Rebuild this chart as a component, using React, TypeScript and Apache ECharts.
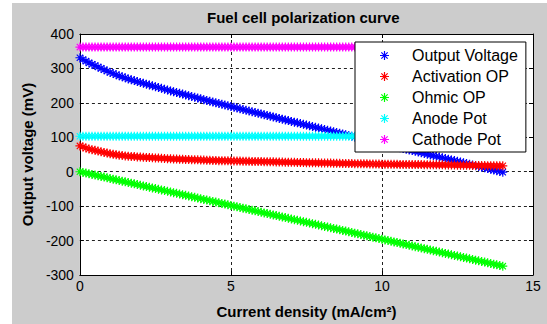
import { useEffect, useRef } from "react";
import * as echarts from "echarts";

const seriesNames = ["Output Voltage", "Activation OP", "Ohmic OP", "Anode Pot", "Cathode Pot"];
const seriesColors = ["#0000ff", "#ff0000", "#00ff00", "#00ffff", "#ff00ff"];
const xTicks = [0, 5, 10, 15];
const yTicks = [-300, -200, -100, 0, 100, 200, 300, 400];

const currentDensity = [
  0, 0.1, 0.2, 0.3, 0.4, 0.5, 0.6, 0.7, 0.8, 0.9,
  1, 1.1, 1.2, 1.3, 1.4, 1.5, 1.6, 1.7, 1.8, 1.9,
  2, 2.1, 2.2, 2.3, 2.4, 2.5, 2.6, 2.7, 2.8, 2.9,
  3, 3.1, 3.2, 3.3, 3.4, 3.5, 3.6, 3.7, 3.8, 3.9,
  4, 4.1, 4.2, 4.3, 4.4, 4.5, 4.6, 4.7, 4.8, 4.9,
  5, 5.1, 5.2, 5.3, 5.4, 5.5, 5.6, 5.7, 5.8, 5.9,
  6, 6.1, 6.2, 6.3, 6.4, 6.5, 6.6, 6.7, 6.8, 6.9,
  7, 7.1, 7.2, 7.3, 7.4, 7.5, 7.6, 7.7, 7.8, 7.9,
  8, 8.1, 8.2, 8.3, 8.4, 8.5, 8.6, 8.7, 8.8, 8.9,
  9, 9.1, 9.2, 9.3, 9.4, 9.5, 9.6, 9.7, 9.8, 9.9,
  10, 10.1, 10.2, 10.3, 10.4, 10.5, 10.6, 10.7, 10.8, 10.9,
  11, 11.1, 11.2, 11.3, 11.4, 11.5, 11.6, 11.7, 11.8, 11.9,
  12, 12.1, 12.2, 12.3, 12.4, 12.5, 12.6, 12.7, 12.8, 12.9,
  13, 13.1, 13.2, 13.3, 13.4, 13.5, 13.6, 13.7, 13.8, 13.9,
  14,
];

const outputVoltage = [
  331, 326, 321.1, 316.1, 312.2, 308.2, 304.2, 300.3, 296.3, 292.4,
  288.4, 285.4, 281.5, 278.5, 275.6, 272.6, 269.6, 267.2, 264.7, 261.8,
  259.3, 256.8, 254.4, 251.9, 249.5, 247, 244.5, 242.1, 239.6, 237.2,
  234.7, 232.2, 230, 227.7, 225.4, 223.1, 220.8, 218.5, 216.2, 214,
  211.6, 209.3, 207.1, 204.8, 202.6, 200.3, 198, 195.9, 193.7, 191.6,
  189.4, 187.2, 185.1, 182.9, 180.8, 178.6, 176.4, 174.3, 172.1, 170,
  167.8, 165.6, 163.5, 161.3, 159.2, 157, 154.8, 152.7, 150.5, 148.4,
  146.2, 144, 141.9, 139.7, 137.6, 135.4, 133.2, 131.1, 128.9, 126.9,
  124.8, 122.6, 120.5, 118.3, 116.2, 114, 111.8, 109.7, 107.5, 105.4,
  103.2, 101, 98.9, 96.7, 94.7, 92.6, 90.4, 88.3, 86.1, 84.1,
  82, 79.9, 77.9, 75.7, 73.7, 71.6, 69.5, 67.5, 65.4, 63.4,
  61.3, 59.2, 57.2, 55.1, 53.1, 51, 48.9, 46.9, 44.8, 42.8,
  40.7, 38.5, 36.5, 34.3, 32.3, 30.1, 28, 25.9, 23.8, 21.7,
  19.6, 17.4, 15.4, 13.2, 11.2, 9, 6.9, 4.8, 2.7, 0.7,
  -1.4,
];

const activationOP = [
  75, 72, 69, 66, 64, 62, 60, 58, 56, 54,
  52, 51, 49, 48, 47, 46, 45, 44.5, 44, 43,
  42.5, 42, 41.5, 41, 40.5, 40, 39.5, 39, 38.5, 38,
  37.5, 37, 36.7, 36.4, 36, 35.7, 35.4, 35, 34.7, 34.4,
  34, 33.7, 33.4, 33.1, 32.8, 32.5, 32.2, 32, 31.8, 31.6,
  31.4, 31.2, 31, 30.8, 30.6, 30.4, 30.2, 30, 29.8, 29.6,
  29.4, 29.2, 29, 28.8, 28.6, 28.4, 28.2, 28, 27.8, 27.6,
  27.4, 27.2, 27, 26.8, 26.6, 26.4, 26.2, 26, 25.8, 25.7,
  25.6, 25.4, 25.2, 25, 24.8, 24.6, 24.4, 24.2, 24, 23.8,
  23.6, 23.4, 23.2, 23, 22.9, 22.8, 22.6, 22.4, 22.2, 22.1,
  22, 21.9, 21.8, 21.6, 21.5, 21.4, 21.3, 21.2, 21.1, 21,
  20.9, 20.8, 20.7, 20.6, 20.5, 20.4, 20.3, 20.2, 20.1, 20,
  19.9, 19.7, 19.6, 19.4, 19.3, 19.1, 19, 18.8, 18.7, 18.5,
  18.4, 18.2, 18.1, 17.9, 17.8, 17.6, 17.5, 17.3, 17.2, 17.1,
  17,
];

const ohmicOP = [
  0, -2, -3.9, -5.9, -7.8, -9.8, -11.8, -13.7, -15.7, -17.6,
  -19.6, -21.6, -23.5, -25.5, -27.4, -29.4, -31.4, -33.3, -35.3, -37.2,
  -39.2, -41.2, -43.1, -45.1, -47, -49, -51, -52.9, -54.9, -56.8,
  -58.8, -60.8, -62.7, -64.7, -66.6, -68.6, -70.6, -72.5, -74.5, -76.4,
  -78.4, -80.4, -82.3, -84.3, -86.2, -88.2, -90.2, -92.1, -94.1, -96,
  -98, -100, -101.9, -103.9, -105.8, -107.8, -109.8, -111.7, -113.7, -115.6,
  -117.6, -119.6, -121.5, -123.5, -125.4, -127.4, -129.4, -131.3, -133.3, -135.2,
  -137.2, -139.2, -141.1, -143.1, -145, -147, -149, -150.9, -152.9, -154.8,
  -156.8, -158.8, -160.7, -162.7, -164.6, -166.6, -168.6, -170.5, -172.5, -174.4,
  -176.4, -178.4, -180.3, -182.3, -184.2, -186.2, -188.2, -190.1, -192.1, -194,
  -196, -198, -199.9, -201.9, -203.8, -205.8, -207.8, -209.7, -211.7, -213.6,
  -215.6, -217.6, -219.5, -221.5, -223.4, -225.4, -227.4, -229.3, -231.3, -233.2,
  -235.2, -237.2, -239.1, -241.1, -243, -245, -247, -248.9, -250.9, -252.8,
  -254.8, -256.8, -258.7, -260.7, -262.6, -264.6, -266.6, -268.5, -270.5, -272.4,
  -274.4,
];

const anodePot = [
  103, 103, 103, 103, 103, 103, 103, 103, 103, 103,
  103, 103, 103, 103, 103, 103, 103, 103, 103, 103,
  103, 103, 103, 103, 103, 103, 103, 103, 103, 103,
  103, 103, 103, 103, 103, 103, 103, 103, 103, 103,
  103, 103, 103, 103, 103, 103, 103, 103, 103, 103,
  103, 103, 103, 103, 103, 103, 103, 103, 103, 103,
  103, 103, 103, 103, 103, 103, 103, 103, 103, 103,
  103, 103, 103, 103, 103, 103, 103, 103, 103, 103,
  103, 103, 103, 103, 103, 103, 103, 103, 103, 103,
  103, 103, 103, 103, 103, 103, 103, 103, 103, 103,
  103, 103, 103, 103, 103, 103, 103, 103, 103, 103,
  103, 103, 103, 103, 103, 103, 103, 103, 103, 103,
  103, 103, 103, 103, 103, 103, 103, 103, 103, 103,
  103, 103, 103, 103, 103, 103, 103, 103, 103, 103,
  103,
];

const cathodePot = [
  362, 362, 362, 362, 362, 362, 362, 362, 362, 362,
  362, 362, 362, 362, 362, 362, 362, 362, 362, 362,
  362, 362, 362, 362, 362, 362, 362, 362, 362, 362,
  362, 362, 362, 362, 362, 362, 362, 362, 362, 362,
  362, 362, 362, 362, 362, 362, 362, 362, 362, 362,
  362, 362, 362, 362, 362, 362, 362, 362, 362, 362,
  362, 362, 362, 362, 362, 362, 362, 362, 362, 362,
  362, 362, 362, 362, 362, 362, 362, 362, 362, 362,
  362, 362, 362, 362, 362, 362, 362, 362, 362, 362,
  362, 362, 362, 362, 362, 362, 362, 362, 362, 362,
  362, 362, 362, 362, 362, 362, 362, 362, 362, 362,
  362, 362, 362, 362, 362, 362, 362, 362, 362, 362,
  362, 362, 362, 362, 362, 362, 362, 362, 362, 362,
  362, 362, 362, 362, 362, 362, 362, 362, 362, 362,
  362,
];

const seriesValues = [outputVoltage, activationOP, ohmicOP, anodePot, cathodePot];

const STAR =
  "path://M4.35 0H5.65V10H4.35Z M0 4.35H10V5.65H0Z M1.95 1.03L8.97 8.05L8.05 8.97L1.03 1.95Z M8.05 1.03L8.97 1.95L1.95 8.97L1.03 8.05Z";

const FONT = "'Liberation Sans', Arial, Helvetica, sans-serif";

export default function App() {
  const ref = useRef<HTMLDivElement>(null);

  useEffect(() => {
    if (!ref.current) return;
    const chart = echarts.init(ref.current, undefined, { renderer: "svg" });

    const axisLine = { show: true, onZero: false, lineStyle: { color: "#000", width: 1 } };
    const tick = { show: true, inside: true, length: 4, lineStyle: { color: "#000" } };
    const grid = { show: true, lineStyle: { color: "#222", width: 1, type: [3, 3] as any } };

    chart.setOption({
      animation: false,
      backgroundColor: "#cccccc",
      textStyle: { fontFamily: FONT },
      title: {
        text: "Fuel cell polarization curve",
        left: 195,
        top: 7,
        padding: 0,
        textStyle: { fontFamily: FONT, fontSize: 15, fontWeight: "bold", color: "#000" },
      },
      grid: {
        left: 67,
        top: 31,
        right: 14,
        bottom: 48,
        show: true,
        backgroundColor: "#ffffff",
        borderWidth: 0,
        containLabel: false,
      },
      legend: {
        orient: "vertical",
        left: 343,
        top: 39,
        padding: [3, 8, 2, 25],
        itemGap: 0,
        itemWidth: 9,
        itemHeight: 9,
        icon: STAR,
        backgroundColor: "#ffffff",
        borderColor: "#000",
        borderWidth: 1,
        borderRadius: 0,
        selectedMode: false,
        data: seriesNames,
        textStyle: {
          fontFamily: FONT,
          fontSize: 16,
          color: "#000",
          lineHeight: 21,
          padding: [0, 0, 0, 18],
        },
      },
      xAxis: [
        {
          type: "value",
          position: "bottom",
          min: xTicks[0],
          max: xTicks[xTicks.length - 1],
          interval: xTicks[1] - xTicks[0],
          axisLine,
          axisTick: tick,
          splitLine: grid,
          axisLabel: { fontFamily: FONT, fontSize: 14, color: "#000", margin: 4 },
          name: "Current density (mA/cm²)",
          nameLocation: "middle",
          nameGap: 29,
          nameTextStyle: { fontFamily: FONT, fontSize: 15, fontWeight: "bold", color: "#000" },
        },
        {
          type: "value",
          position: "top",
          min: xTicks[0],
          max: xTicks[xTicks.length - 1],
          interval: xTicks[1] - xTicks[0],
          axisLine,
          axisTick: tick,
          splitLine: { show: false },
          axisLabel: { show: false },
        },
      ],
      yAxis: [
        {
          type: "value",
          position: "left",
          min: yTicks[0],
          max: yTicks[yTicks.length - 1],
          interval: yTicks[1] - yTicks[0],
          axisLine,
          axisTick: tick,
          splitLine: grid,
          axisLabel: { fontFamily: FONT, fontSize: 14, color: "#000", margin: 6 },
          name: "Output voltage (mV)",
          nameLocation: "middle",
          nameGap: 41,
          nameTextStyle: { fontFamily: FONT, fontSize: 15, fontWeight: "bold", color: "#000" },
        },
        {
          type: "value",
          position: "right",
          min: yTicks[0],
          max: yTicks[yTicks.length - 1],
          interval: yTicks[1] - yTicks[0],
          axisLine,
          axisTick: tick,
          splitLine: { show: false },
          axisLabel: { show: false },
        },
      ],
      series: seriesNames.map((name, k) => ({
        type: "scatter",
        name,
        xAxisIndex: 0,
        yAxisIndex: 0,
        symbol: STAR,
        symbolSize: 9,
        itemStyle: { color: seriesColors[k], opacity: 1 },
        emphasis: { disabled: true },
        silent: true,
        data: currentDensity.map((x, i) => [x, seriesValues[k][i]]),
      })),
    });

    return () => chart.dispose();
  }, []);

  return (
    <div
      ref={ref}
      style={{ position: "absolute", left: 12, top: 3, width: 535, height: 321 }}
    />
  );
}
